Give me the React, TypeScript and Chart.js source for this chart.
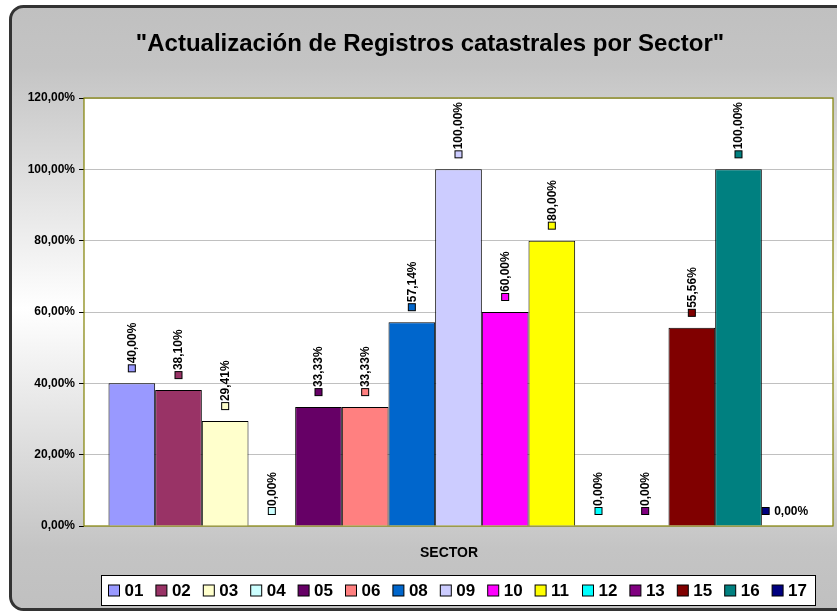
import { useEffect, useRef } from 'react';
import { Chart, registerables } from 'chart.js';

Chart.register(...registerables);

const chartTitle = '"Actualización de Registros catastrales por Sector"';
const axisTitle = 'SECTOR';
const categories = ['SECTOR'];
const sectors = ['01', '02', '03', '04', '05', '06', '08', '09', '10', '11', '12', '13', '15', '16', '17'];
const values = [40.0, 38.1, 29.41, 0, 33.33, 33.33, 57.14, 100, 60, 80, 0, 0, 55.56, 100, 0];
const colors = [
  '#9999FF', '#993366', '#FFFFCC', '#CCFFFF', '#660066', '#FF8080', '#0066CC', '#CCCCFF',
  '#FF00FF', '#FFFF00', '#00FFFF', '#800080', '#800000', '#008080', '#000080',
];
const yMin = 0;
const yMax = 120;
const yStep = 20;

const FONT = '"Liberation Sans", Arial, sans-serif';
const fmt = (v: number) => v.toFixed(2).replace('.', ',') + '%';

const W = 837;
const H = 613;

const decorPlugin = {
  id: 'decor',
  beforeDraw(chart: any) {
    const ctx = chart.ctx as CanvasRenderingContext2D;
    const ca = chart.chartArea;
    ctx.save();
    ctx.fillStyle = '#ffffff';
    ctx.fillRect(0, 0, W, H);
    // rounded frame
    const x0 = 10.5, y0 = 6.5, x1 = 850, y1 = 609.5, r = 13;
    ctx.beginPath();
    ctx.moveTo(x0 + r, y0);
    ctx.lineTo(x1, y0);
    ctx.lineTo(x1, y1);
    ctx.lineTo(x0 + r, y1);
    ctx.arcTo(x0, y1, x0, y1 - r, r);
    ctx.lineTo(x0, y0 + r);
    ctx.arcTo(x0, y0, x0 + r, y0, r);
    ctx.closePath();
    const g = ctx.createLinearGradient(0, y0, 0, y1);
    g.addColorStop(0, '#c0c0c0');
    g.addColorStop(0.1, '#c4c4c4');
    g.addColorStop(0.5, '#ffffff');
    g.addColorStop(0.9, '#c4c4c4');
    g.addColorStop(1, '#c0c0c0');
    ctx.fillStyle = g;
    ctx.fill();
    ctx.lineWidth = 3;
    ctx.strokeStyle = '#333333';
    ctx.stroke();
    // plot area
    ctx.fillStyle = '#ffffff';
    ctx.fillRect(ca.left, ca.top, ca.right - ca.left, ca.bottom - ca.top);
    // title
    ctx.fillStyle = '#000000';
    ctx.font = `bold 24px ${FONT}`;
    ctx.textAlign = 'center';
    ctx.textBaseline = 'middle';
    ctx.fillText(chartTitle, 430, 44);
    ctx.restore();
  },
  beforeDatasetsDraw(chart: any) {
    const ctx = chart.ctx as CanvasRenderingContext2D;
    const ca = chart.chartArea;
    ctx.save();
    ctx.strokeStyle = '#808000';
    ctx.lineWidth = 1.2;
    ctx.strokeRect(ca.left, ca.top, ca.right - ca.left, ca.bottom - ca.top);
    ctx.restore();
  },
  afterDatasetsDraw(chart: any) {
    const ctx = chart.ctx as CanvasRenderingContext2D;
    const n = chart.data.datasets.length;
    ctx.save();
    ctx.font = `bold 12px ${FONT}`;
    ctx.fillStyle = '#000000';
    for (let i = 0; i < n; i++) {
      const meta = chart.getDatasetMeta(i);
      const bar = meta.data[0];
      if (!bar) continue;
      const ds = chart.data.datasets[i];
      const label = fmt(ds.data[0] as number);
      const x = bar.x;
      const y = bar.y;
      const sq = 7;
      if (i === n - 1) {
        const tw = ctx.measureText(label).width;
        const total = sq + 5 + tw;
        const sx = x - total / 2;
        const cy = y - 15;
        ctx.fillStyle = ds.backgroundColor;
        ctx.fillRect(sx, cy - sq / 2, sq, sq);
        ctx.strokeStyle = '#000';
        ctx.lineWidth = 1;
        ctx.strokeRect(sx, cy - sq / 2, sq, sq);
        ctx.fillStyle = '#000';
        ctx.textAlign = 'left';
        ctx.textBaseline = 'middle';
        ctx.fillText(label, sx + sq + 5, cy + 0.5);
      } else {
        const cy = y - 15;
        ctx.fillStyle = ds.backgroundColor;
        ctx.fillRect(x - sq / 2, cy - sq / 2, sq, sq);
        ctx.strokeStyle = '#000';
        ctx.lineWidth = 1;
        ctx.strokeRect(x - sq / 2, cy - sq / 2, sq, sq);
        ctx.save();
        ctx.translate(x + 0.5, y - 20);
        ctx.rotate(-Math.PI / 2);
        ctx.fillStyle = '#000';
        ctx.textAlign = 'left';
        ctx.textBaseline = 'middle';
        ctx.fillText(label, 0, 0);
        ctx.restore();
      }
    }
    ctx.restore();
  },
  afterDraw(chart: any) {
    const ctx = chart.ctx as CanvasRenderingContext2D;
    const ca = chart.chartArea;
    ctx.save();
    // axis title
    ctx.fillStyle = '#000';
    ctx.font = `bold 14px ${FONT}`;
    ctx.textAlign = 'center';
    ctx.textBaseline = 'middle';
    ctx.fillText(axisTitle, 449, 553);
    // legend
    const lx0 = 101.5, ly0 = 575.5, lx1 = 815.5, ly1 = 605.5;
    ctx.fillStyle = '#ffffff';
    ctx.fillRect(lx0, ly0, lx1 - lx0, ly1 - ly0);
    ctx.strokeStyle = '#000';
    ctx.lineWidth = 1;
    ctx.strokeRect(lx0, ly0, lx1 - lx0, ly1 - ly0);
    ctx.font = `bold 17px ${FONT}`;
    ctx.textAlign = 'left';
    ctx.textBaseline = 'middle';
    const cy = (ly0 + ly1) / 2;
    chart.data.datasets.forEach((ds: any, i: number) => {
      const sx = 108.5 + i * 47.4;
      ctx.fillStyle = ds.backgroundColor;
      ctx.fillRect(sx, cy - 5.5, 11, 11);
      ctx.strokeStyle = '#000';
      ctx.strokeRect(sx, cy - 5.5, 11, 11);
      ctx.fillStyle = '#000';
      ctx.fillText(ds.label, sx + 16, cy + 1);
    });
    ctx.restore();
    void ca;
  },
};

export default function App() {
  const ref = useRef<HTMLCanvasElement | null>(null);
  useEffect(() => {
    if (!ref.current) return;
    const chart = new Chart(ref.current, {
      type: 'bar',
      data: {
        labels: categories,
        datasets: sectors.map((s, i) => ({
          label: s,
          data: [values[i]],
          backgroundColor: colors[i],
          borderColor: '#000000',
          borderWidth: 1,
          categoryPercentage: 700 / 749,
          barPercentage: 1,
        })),
      },
      options: {
        animation: false,
        responsive: false,
        maintainAspectRatio: false,
        devicePixelRatio: 1,
        layout: { padding: { left: 0, top: 98, right: 4, bottom: 87 } },
        plugins: {
          legend: { display: false },
          title: { display: false },
          tooltip: { enabled: false },
        },
        scales: {
          x: { display: false },
          y: {
            min: yMin,
            max: yMax,
            ticks: {
              stepSize: yStep,
              callback: (v: any) => fmt(Number(v)),
              font: { family: FONT, size: 12, weight: 'bold' },
              color: '#000',
              padding: 4,
            },
            grid: {
              color: '#c0c0c0',
              lineWidth: 1,
              tickLength: 5,
              tickColor: '#000',
              drawTicks: true,
            },
            border: { display: false },
            afterFit: (scale: any) => {
              scale.width = 84;
            },
          },
        },
      },
      plugins: [decorPlugin],
    } as any);
    return () => chart.destroy();
  }, []);
  return (
    <div style={{ position: 'absolute', left: 0, top: 0, width: W, height: H }}>
      <canvas ref={ref} width={W} height={H} style={{ width: W, height: H, display: 'block' }} />
    </div>
  );
}
